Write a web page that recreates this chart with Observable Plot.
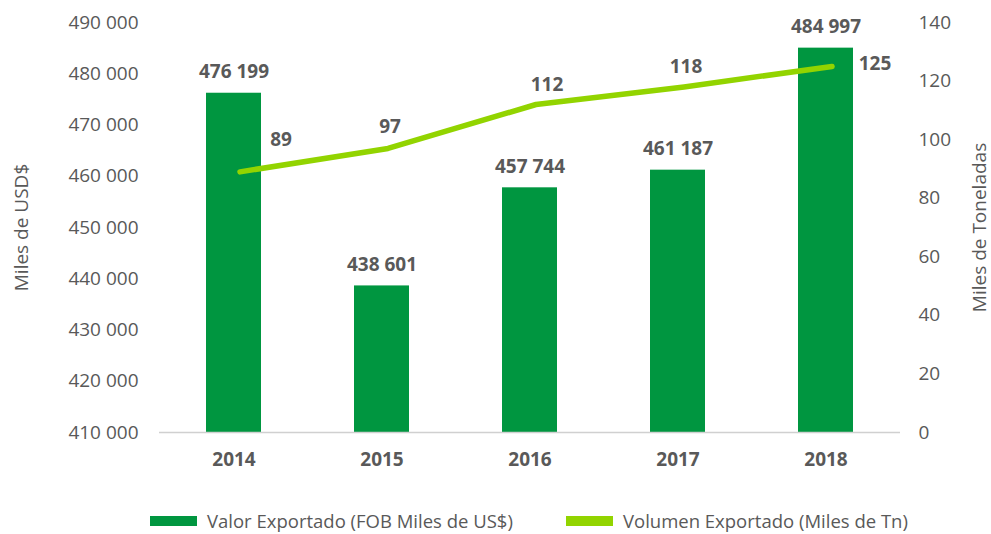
<!DOCTYPE html>
<html>
<head>
<meta charset="utf-8">
<script src="https://cdn.jsdelivr.net/npm/d3@7"></script>
<script src="https://cdn.jsdelivr.net/npm/@observablehq/plot@0.6"></script>
<style>
  body { margin: 0; background: #fff; }
  #wrap { position: relative; width: 991px; height: 534px; font-family: "Open Sans", sans-serif; color: #595959; }
  .legend { position: absolute; top: 508px; left: 0; width: 991px; height: 26px; }
  .item { position: absolute; display: flex; align-items: center; font-size: 18.5px; color: #595959; white-space: nowrap; }
  .sw { width: 47px; height: 10px; margin-right: 10px; }
</style>
</head>
<body>
<div id="wrap">
  <div id="chart"></div>
  <div class="legend">
    <div class="item" style="left:150px"><span class="sw" style="background:#009640"></span><span id="l1"></span></div>
    <div class="item" style="left:566px"><span class="sw" style="background:#92d400"></span><span id="l2"></span></div>
  </div>
</div>
<script>
const years = ["2014", "2015", "2016", "2017", "2018"];
const valorExportado = [476199, 438601, 457744, 461187, 484997];
const volumenExportado = [89, 97, 112, 118, 125];
const leftTicks = [410000, 420000, 430000, 440000, 450000, 460000, 470000, 480000, 490000];
const rightTicks = [0, 20, 40, 60, 80, 100, 120, 140];
const seriesNames = ["Valor Exportado (FOB Miles de US$)", "Volumen Exportado (Miles de Tn)"];
const axisTitles = ["Miles de USD$", "Miles de Toneladas"];

document.getElementById("l1").textContent = seriesNames[0];
document.getElementById("l2").textContent = seriesNames[1];

const leftMin = 410000, leftMax = 490000, rightMax = 140;
const toLeft = v => leftMin + v * (leftMax - leftMin) / rightMax;
const fromLeft = d => Math.round((d - leftMin) * rightMax / (leftMax - leftMin));
const fmt = d => d3.format(",")(d).replace(/,/g, " ");

const data = years.map((y, i) => ({year: y, valor: valorExportado[i], vol: volumenExportado[i]}));
const gray = "#595959";
const lineColor = "#92d400";
const lineDx = 6;

const volLabel = (yr, dx, dy) => Plot.text(data.filter(d => d.year === yr), {
  x: "year", y: d => toLeft(d.vol), text: d => String(d.vol),
  dx, dy, fontWeight: "bold", fontSize: 19, fill: gray
});

const chart = Plot.plot({
  width: 991,
  height: 490,
  marginLeft: 159,
  marginRight: 91,
  marginTop: 22,
  marginBottom: 58,
  style: {fontFamily: "'Open Sans', sans-serif", color: gray, background: "#fff"},
  x: {domain: years, paddingInner: 0.63, paddingOuter: 0.315},
  y: {domain: [leftMin, leftMax]},
  marks: [
    Plot.barY(data, {x: "year", y1: leftMin, y2: "valor", fill: "#009640"}),
    Plot.ruleY([leftMin], {stroke: "#d0d0d0", strokeWidth: 1.5}),
    Plot.line(data, {x: "year", y: d => toLeft(d.vol), stroke: lineColor, strokeWidth: 5.5, strokeLinecap: "round", strokeLinejoin: "round", dx: lineDx}),
    Plot.text(data, {x: "year", y: "valor", text: d => fmt(d.valor), dy: -21, fontWeight: "bold", fontSize: 19, fill: gray}),
    volLabel("2014", 47, -32),
    volLabel("2015", 8, -22),
    volLabel("2016", 17, -20),
    volLabel("2017", 8, -20),
    volLabel("2018", 49, -3),
    Plot.axisY(leftTicks, {anchor: "left", tickSize: 0, tickPadding: 21, tickFormat: fmt, fontSize: 19,
      label: axisTitles[0], labelAnchor: "center", labelArrow: "none", labelOffset: 145}),
    Plot.axisY(rightTicks.map(toLeft), {anchor: "right", tickSize: 0, tickPadding: 18, tickFormat: fromLeft, fontSize: 19,
      label: axisTitles[1], labelAnchor: "center", labelArrow: "none", labelOffset: 85}),
    Plot.axisX({tickSize: 0, tickPadding: 20, fontSize: 19, fontWeight: "bold", label: null})
  ]
});
document.getElementById("chart").appendChild(chart);
</script>
</body>
</html>
